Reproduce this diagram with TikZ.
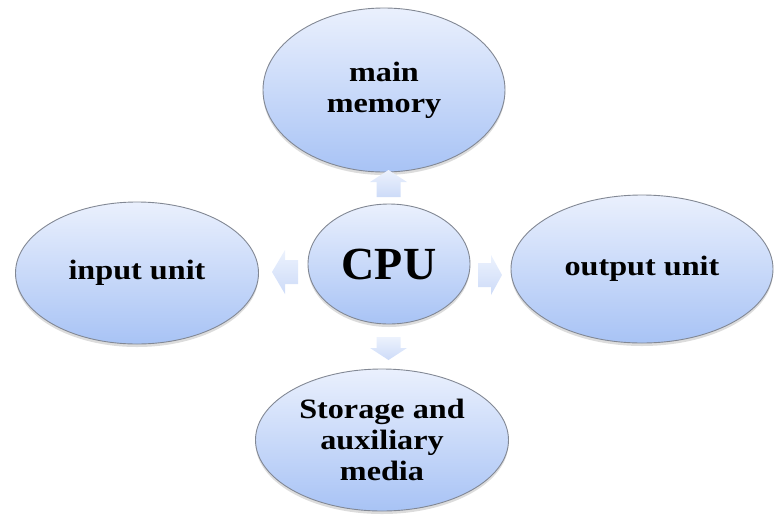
\documentclass[tikz,border=0pt]{standalone}
\usepackage{fontspec}
\setmainfont{Liberation Serif}[FakeStretch=1.15]
\newfontfamily\cpufont{Liberation Serif}
\usetikzlibrary{shapes.geometric,shadows}
\definecolor{elltop}{RGB}{234,240,253}
\definecolor{ellbot}{RGB}{168,195,245}
\definecolor{ellline}{RGB}{130,136,148}
\definecolor{arrtop}{RGB}{236,242,253}
\definecolor{arrbot}{RGB}{205,219,248}
\tikzset{
  bubble/.style={ellipse, draw=ellline, line width=0.9pt, inner sep=0pt,
    top color=elltop, bottom color=ellbot,
    drop shadow={shadow xshift=0pt, shadow yshift=-3pt, fill=black!30, opacity=0.45},
    font=\bfseries\fontsize{28}{31}\selectfont, align=center, text=black},
  blockarrow/.style={top color=arrtop, bottom color=arrbot, draw=none}
}
\begin{document}
\begin{tikzpicture}[x=1pt,y=-1pt]
\useasboundingbox (0,0) rectangle (774,515);
\node[bubble, minimum width=242, minimum height=164] (mem) at (384,90) {main\\memory};
\node[bubble, minimum width=162, minimum height=120, font=\cpufont\bfseries\fontsize{46}{50}\selectfont] (cpu) at (389,264) {CPU};
\node[bubble, minimum width=243, minimum height=142] (in) at (137,273) {input unit};
\node[bubble, minimum width=262, minimum height=148] (out) at (642,269) {output unit};
\node[bubble, minimum width=253, minimum height=142] (sto) at (382,440) {Storage and\\auxiliary\\media};
% block arrows
\shade[blockarrow] (388.5,170) -- (407,182) -- (400.5,182) -- (400.5,197)
  -- (376.5,197) -- (376.5,182) -- (370,182) -- cycle;
\shade[blockarrow] (388.5,360) -- (407,348) -- (400.5,348) -- (400.5,337)
  -- (376.5,337) -- (376.5,348) -- (370,348) -- cycle;
\shade[blockarrow] (272,272) -- (285,250) -- (285,260) -- (298,260)
  -- (298,284) -- (285,284) -- (285,294) -- cycle;
\shade[blockarrow] (502,275) -- (491,255) -- (491,263) -- (478,263)
  -- (478,287) -- (491,287) -- (491,295) -- cycle;
\end{tikzpicture}
\end{document}
